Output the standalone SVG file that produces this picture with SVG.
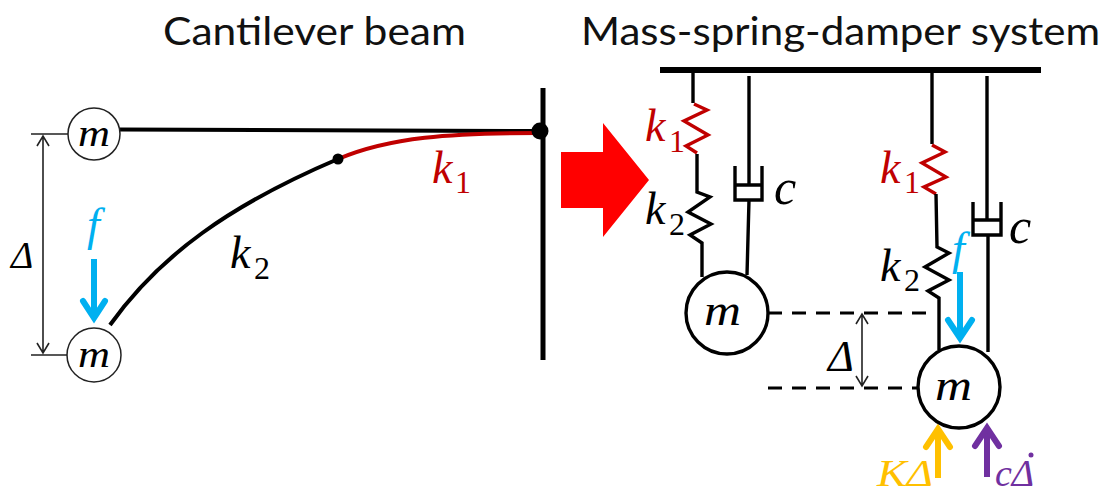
<svg xmlns="http://www.w3.org/2000/svg" width="1106" height="494" viewBox="0 0 1106 494">
<style>
text{font-family:"Liberation Serif","DejaVu Serif",serif;font-style:italic}
.t{font-family:"Lato","Open Sans",sans-serif;font-style:normal;font-size:39px;fill:#111}
.l{fill:none;stroke:#000;stroke-width:3.4;stroke-linejoin:miter}
.r{fill:none;stroke:#c00000;stroke-width:3.4}
.thin{fill:none;stroke:#222;stroke-width:1.6}
.dash{fill:none;stroke:#000;stroke-width:3;stroke-dasharray:14 10}
.mass{fill:#fff;stroke:#000;stroke-width:3.4}
.m1{fill:#fff;stroke:#222;stroke-width:1.5}
.sub{font-style:normal;font-size:32px}
.k{font-size:46px}
.f{font-size:46px;fill:#00b0f0}
.c{font-size:50px}
.arrow{fill:none;stroke-width:6;stroke-linejoin:miter;stroke-miterlimit:8}
</style>
<text class="t" x="163" y="45" textLength="303" lengthAdjust="spacingAndGlyphs">Cantilever beam</text>
<text class="t" x="581" y="45" textLength="519" lengthAdjust="spacingAndGlyphs">Mass-spring-damper system</text>
<g id="connectors">
<path class="thin" d="M31 134H68M31 355H68M43 136V353M37 146L43 136L49 146M37 343L43 353L49 343"/>
<path d="M120 129.5L540 131" fill="none" stroke="#000" stroke-width="4"/>
<path d="M110 325C160 255 230 205 338 159" fill="none" stroke="#000" stroke-width="4"/>
<path d="M338 159C390 137 450 133 540 133" fill="none" stroke="#c00000" stroke-width="4"/>
<path d="M543 88V360" fill="none" stroke="#000" stroke-width="5"/>
<circle cx="338" cy="159" r="5.5"/>
<circle cx="540" cy="131" r="8.5"/>
<path class="arrow" stroke="#00b0f0" d="M94 259V316"/>
<path class="arrow" stroke="#00b0f0" stroke-linecap="round" d="M83 301L94 318L105 301"/>
<path d="M561 152H603V123L649 180L603 237V208H561Z" fill="#f00"/>
<path d="M660 70H1041" fill="none" stroke="#000" stroke-width="6"/>
<path class="l" d="M693 72V103"/>
<path class="r" d="M694 104L707 110L684 121L708 135L686 146L697 153"/>
<path class="l" d="M697 154V192L710 197L688 212L711 224L690 235L702 243V277"/>
<path class="l" d="M749 76V185M749 200L747 275M735 166V200H762V166M735 185H762"/>
<path class="dash" d="M768 313H930M768 388H918"/>
<path class="thin" d="M862 314V386M856 324L862 314L868 324M856 376L862 386L868 376"/>
<path class="l" d="M932 72V144"/>
<path class="r" d="M932 145L945 152L922 163L946 177L924 187L936 194"/>
<path class="l" d="M936 194L937 247L949 253L925 267L949 280L928 291L939 298V350"/>
<path class="l" d="M987 76V220M988 235V352M973 202V235H1001V202M973 220H1001"/>
<path class="arrow" stroke="#ffc000" d="M938 478V432"/>
<path class="arrow" stroke="#ffc000" stroke-linecap="round" d="M926 447L938 429L950 447"/>
<path class="arrow" stroke="#7030a0" d="M987 477V431"/>
<path class="arrow" stroke="#7030a0" stroke-linecap="round" d="M975 446L987 428L999 446"/>
</g>
<g id="mass-top-left"><circle class="m1" cx="94" cy="134" r="26"/><text x="78" y="146" font-size="38" textLength="32" lengthAdjust="spacingAndGlyphs">m</text></g>
<g id="mass-bottom-left"><circle class="m1" cx="94" cy="355" r="27"/><text x="78" y="367" font-size="38" textLength="32" lengthAdjust="spacingAndGlyphs">m</text></g>
<g id="mass-right-1"><circle class="mass" cx="727" cy="313" r="41"/><text x="704" y="325" font-size="44" textLength="37" lengthAdjust="spacingAndGlyphs">m</text></g>
<g id="mass-right-2"><circle class="mass" cx="959" cy="387" r="41"/><text x="935" y="400" font-size="44" textLength="37" lengthAdjust="spacingAndGlyphs">m</text></g>
<g id="connectors-top">
<path class="arrow" stroke="#00b0f0" d="M960 272V336"/>
<path class="arrow" stroke="#00b0f0" stroke-linecap="round" d="M948 320L960 338L972 320"/>
</g>
<g id="labels">
<text x="11" y="268" font-size="38">Δ</text>
<text x="87" y="240" class="f">f</text>
<text x="230" y="268" class="k">k</text><text x="254" y="279" class="sub">2</text>
<text x="432" y="183" class="k" fill="#c00000">k</text><text x="455" y="193" class="sub" fill="#c00000">1</text>
<text x="645" y="141" class="k" fill="#c00000">k</text><text x="669" y="152" class="sub" fill="#c00000">1</text>
<text x="645" y="224" class="k">k</text><text x="669" y="235" class="sub">2</text>
<text x="774" y="204" class="c">c</text>
<text x="880" y="183" class="k" fill="#c00000">k</text><text x="904" y="193" class="sub" fill="#c00000">1</text>
<text x="880" y="281" class="k">k</text><text x="904" y="291" class="sub">2</text>
<text x="952" y="264" class="f">f</text>
<text x="1009" y="243" class="c">c</text>
<text x="828" y="371" font-size="44">Δ</text>
<text x="877" y="485.5" font-size="38" fill="#ffc000" textLength="56" lengthAdjust="spacingAndGlyphs">KΔ</text>
<text x="995" y="485.5" font-size="38" fill="#7030a0">cΔ</text>
</g>
<circle cx="1031" cy="455" r="2.5" fill="#7030a0"/>
</svg>
